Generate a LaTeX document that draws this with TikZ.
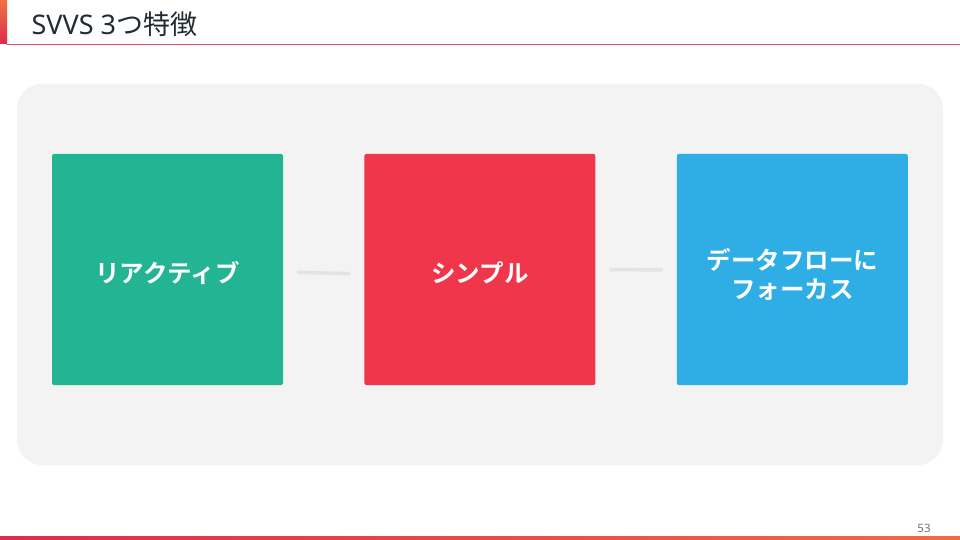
\documentclass[tikz,border=0pt]{standalone}
\usepackage{fontspec}
\usepackage{tikz}
\usetikzlibrary{positioning}
\setmainfont{Noto Sans CJK JP}
\newfontfamily\jpbold{Noto Sans CJK JP Bold}
\newfontfamily\latinsans{Noto Sans}
\definecolor{ttlbar}{rgb}{0.8666666666666667,0.17254901960784313,0.2980392156862745}
\definecolor{ttlorange}{rgb}{0.9490196078431372,0.4470588235294118,0.2549019607843137}
\definecolor{ttltext}{rgb}{0.12549019607843137,0.16862745098039217,0.2}
\definecolor{panelgray}{rgb}{0.9529411764705882,0.9529411764705882,0.9529411764705882}
\definecolor{linkgray}{rgb}{0.8901960784313725,0.8901960784313725,0.8941176470588236}
\definecolor{qqgreen}{rgb}{0.13333333333333333,0.7058823529411765,0.5764705882352941}
\definecolor{qqred}{rgb}{0.9372549019607843,0.21176470588235294,0.2901960784313726}
\definecolor{qqblue}{rgb}{0.1843137254901961,0.6823529411764706,0.9019607843137255}

\begin{document}
\begin{tikzpicture}[x=1pt,y=-1pt,line cap=round,line join=round,
  card/.style={minimum width=231pt,minimum height=231pt,rounded corners=2pt,inner sep=0pt},
  cardtext/.style={text=white,align=center,inner sep=0pt,font=\jpbold\fontsize{24.5}{29}\selectfont},
  link/.style={line width=3.5pt,color=linkgray,line cap=butt,shorten <=14pt,shorten >=14pt}]
\useasboundingbox (0,0) rectangle (960,540);
\fill [white] (0,0) rectangle (960,540);
% title
\shade [top color=ttlorange,bottom color=ttlbar] (0,0) rectangle (7,44);
\draw [line width=1pt,color=ttlbar!85] (7,45) -- (960,45);
\node [anchor=west,text=ttltext,font=\fontsize{27}{32}\selectfont] (title) at (28,24) {{\latinsans SVVS 3}つ特徴};
% panel
\fill [panelgray,rounded corners=25pt] (17,84) rectangle (943,465);
% cards
\node [card,fill=qqgreen] (react) at (167.5,269.5) {};
\node [card,fill=qqred,right=81pt of react] (simple) {};
\node [card,fill=qqblue,right=81pt of simple] (flow) {};
\node [cardtext] (reacttxt) at ([yshift=-3.5pt]react.center) {リアクティブ};
\node [cardtext] (simpletxt) at ([yshift=-3.5pt]simple.center) {シンプル};
\node [cardtext] (flowtxt) at ([yshift=-5pt]flow.center) {データフローに\\フォーカス};
\draw [link] ([yshift=-2.5pt]react.east) -- ([yshift=-4.5pt]simple.west);
\draw [link] ([yshift=0pt]simple.east) -- ([yshift=-0.5pt]flow.west);
% footer
\node [text=black!55,font=\latinsans\fontsize{11.5}{14}\selectfont] (page) at (924,528) {53};
\shade [left color=ttlbar,right color=ttlorange!90!ttlbar] (0,536) rectangle (960,540);
\end{tikzpicture}
\end{document}
